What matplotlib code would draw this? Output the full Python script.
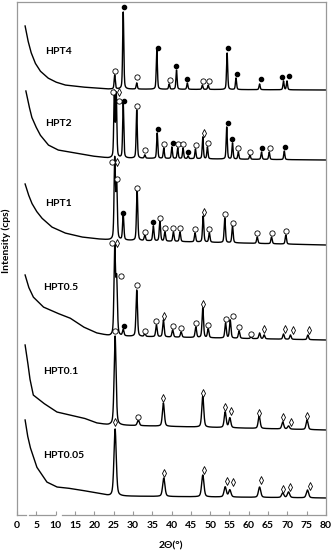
import numpy as np
import matplotlib
matplotlib.use("Agg")
import matplotlib.pyplot as plt

plt.rcParams['font.family'] = ['Lato', 'DejaVu Sans']

# Patrones DRX apilados (intensidad en unidades arbitrarias, ya desplazadas)
etiquetas = ["HPT4", "HPT2", "HPT1", "HPT0.5", "HPT0.1", "HPT0.05"]
etiqueta_pos = [(7.2, 463), (7.2, 392), (7.2, 312), (6.7, 228), (6.7, 143), (6.7, 60)]

# fondo (2θ, intensidad)
fondo_x = [
    [2.1, 2.8, 3.6, 4.7, 6.0, 8.0, 10.0, 12.4, 16.8, 23.6, 80],
    [2.3, 3.0, 3.8, 4.8, 6.0, 8.1, 10.6, 15.0, 19.3, 23.6, 80],
    [2.1, 2.9, 3.8, 5.0, 6.4, 9.0, 12.4, 16.7, 21.0, 24.0, 80],
    [2.1, 3.0, 4.2, 6.8, 10.3, 13.7, 17.2, 20.6, 24.0, 80],
    [2.1, 2.7, 3.3, 4.2, 6.8, 10.3, 13.7, 17.2, 20.6, 23.6, 80],
    [2.1, 2.7, 3.4, 5.1, 7.7, 10.3, 12.9, 16.3, 20.6, 24.0, 80],
]
fondo_y = [
    [489, 475, 463, 452, 444, 437, 433, 430, 428, 426, 425],
    [424, 411, 398, 389, 380, 370, 365, 362, 359, 357, 355],
    [331, 321, 312, 304, 297, 288, 282, 278, 276, 275, 270],
    [240, 228, 218, 208, 202, 197, 188, 182, 179, 175],
    [170, 155, 137, 120, 112, 103, 100, 97, 92, 90, 85],
    [95, 80, 68, 48, 33, 28, 27, 25, 22, 19, 17],
]

# picos (posición 2θ, intensidad máxima)
picos_pos = [
    [25.3, 27.5, 31.0, 36.2, 39.4, 41.3, 44.1, 48.0, 49.5, 54.4, 56.7, 62.8, 69.0, 69.9],
    [25.2, 25.7, 27.5, 31.0, 33.1, 36.3, 38.0, 40.1, 41.6, 43.0, 44.3, 46.2, 48.1, 49.3,
     54.3, 55.8, 57.3, 60.3, 63.3, 65.3, 69.2],
    [25.3, 25.8, 27.5, 31.1, 33.1, 35.3, 37.0, 38.3, 40.5, 42.2, 46.1, 48.2, 49.8, 53.8,
     55.8, 62.2, 65.9, 69.6],
    [25.3, 25.8, 27.5, 31.0, 33.1, 36.1, 37.9, 40.3, 42.5, 46.3, 48.1, 49.5, 54.0, 55.2,
     57.5, 60.6, 62.8, 64.0, 69.0, 70.8, 75.3],
    [25.4, 31.4, 37.9, 48.1, 53.9, 55.1, 62.7, 68.8, 70.3, 75.1],
    [25.4, 38.0, 48.1, 53.9, 55.1, 62.8, 68.8, 70.3, 75.2],
]
picos_top = [
    [440, 503, 432, 465, 431, 445, 432, 430, 430, 462, 437, 431, 434, 434],
    [422, 420, 412, 405, 360, 382, 367, 368, 367, 367, 359, 366, 378, 368,
     388, 372, 363, 360, 363, 363, 364],
    [355, 332, 300, 325, 280, 289, 294, 283, 283, 283, 282, 299, 282, 297,
     289, 278, 278, 280],
    [267, 233, 185, 225, 181, 190, 195, 185, 183, 188, 207, 186, 192, 195,
     184, 178, 182, 180, 181, 180, 180],
    [179, 95, 112, 119, 103, 97, 99, 93, 89, 95],
    [86, 37, 40, 28, 25, 28, 22, 23, 25],
]
anchos = [0.35, 0.35, 0.4, 0.45, 0.6, 0.7]

# marcadores de fase: rutilo (●), brookita (○), anatasa (◊)
rutilo = [
    [(27.7, 508), (36.4, 467), (41.2, 449), (44.1, 436), (54.5, 467), (56.9, 441),
     (63.3, 436), (68.7, 438), (70.5, 439)],
    [(27.8, 414), (36.4, 386), (40.3, 372), (44.4, 363), (54.5, 392), (55.7, 376),
     (63.5, 367), (69.4, 368)],
    [(27.5, 302), (35.3, 293)],
    [(27.8, 189)],
    [],
    [],
]
brookita = [
    [(25.4, 444), (31.0, 438), (39.6, 435), (48.2, 434), (49.7, 434)],
    [(24.9, 423), (26.4, 414), (31.0, 409), (33.1, 365), (38.1, 371), (41.8, 371),
     (43.1, 371), (46.3, 370), (49.4, 372), (57.3, 367), (60.3, 363), (65.5, 367)],
    [(24.7, 353), (25.8, 336), (31.1, 327), (33.1, 283), (37.0, 297), (38.3, 287),
     (40.5, 287), (42.2, 287), (46.1, 286), (49.8, 286), (53.8, 301), (56.0, 292),
     (62.2, 282), (65.9, 282), (69.6, 284)],
    [(24.5, 272), (26.8, 239), (31.0, 230), (33.1, 184), (36.1, 194), (40.3, 189),
     (42.5, 187), (46.3, 192), (49.5, 190), (54.0, 196), (56.0, 199), (57.5, 188),
     (60.6, 181)],
    [(25.4, 184), (31.4, 98)],
    [],
]
anatasa = [
    [],
    [(26.4, 423), (48.5, 382)],
    [(26.0, 353), (48.5, 303)],
    [(26.0, 272), (38.1, 199), (48.2, 211), (64.0, 186), (69.4, 186), (71.4, 185),
     (75.7, 185)],
    [(37.9, 117), (48.2, 122), (53.8, 108), (55.4, 104), (62.7, 102), (68.9, 98),
     (70.9, 93), (75.2, 99)],
    [(25.3, 93), (38.1, 42), (48.4, 45), (54.3, 34), (55.8, 33), (63.3, 35),
     (68.9, 26), (70.8, 28), (75.8, 29)],
]

ticks_x = list(range(0, 81, 5))
eje_tramos = [(0, 2.3), (3.2, 9.8), (11.6, 80)]


def perfil(x, fx, fy, pos, top, fwhm):
    base = np.interp(x, fx, fy)
    y = base.copy()
    for p, t in zip(pos, top):
        h = t - np.interp(p, fx, fy)
        g = np.exp(-4 * np.log(2) * (x - p) ** 2 / fwhm ** 2)
        l = 1 / (1 + 4 * (x - p) ** 2 / fwhm ** 2)
        y += h * (0.6 * g + 0.4 * l)
    return y


fig = plt.figure(figsize=(3.36, 5.55), dpi=100)
ax = fig.add_axes([17 / 336, 40 / 555, 309 / 336, 513 / 555])

for i in range(len(etiquetas)):
    x = np.linspace(fondo_x[i][0], 80, 4000)
    y = perfil(x, fondo_x[i], fondo_y[i], picos_pos[i], picos_top[i], anchos[i])
    ax.plot(x, y, color='black', lw=1.0)
    ax.text(etiqueta_pos[i][0], etiqueta_pos[i][1], etiquetas[i], fontsize=7.5,
            fontweight='bold', va='center', ha='left')
    if rutilo[i]:
        rx, ry = zip(*rutilo[i])
        ax.plot(rx, ry, 'o', ms=3, color='black', mec='black', ls='none')
    if brookita[i]:
        bx, by = zip(*brookita[i])
        ax.plot(bx, by, 'o', ms=3.8, mfc='white', mec='black', mew=0.6, ls='none')
    if anatasa[i]:
        ax.plot(*zip(*anatasa[i]), 'd', ms=4.2, mfc='white', mec='black', mew=0.6,
                ls='none')

ax.set_xlim(0, 80)
ax.set_ylim(0, 513)
ax.set_yticks([])
ax.set_xticks(ticks_x)
ax.tick_params(axis='x', direction='in', length=3, color='#999999', pad=4,
               labelsize=7.5)
for lab in ax.get_xticklabels():
    lab.set_fontweight('bold')
for s in ['top', 'left', 'right']:
    ax.spines[s].set_color('#999999')
    ax.spines[s].set_linewidth(0.9)
ax.spines['bottom'].set_visible(False)
for a, b in eje_tramos:
    ax.plot([a, b], [0, 0], color='#999999', lw=0.9, clip_on=False)

fig.text(171 / 336, 9 / 555, "2Θ(°)", ha='center', va='center', fontsize=7.5,
         fontweight='bold')
fig.text(6.7 / 336, 314 / 555, "Intensity (cps)", ha='center', va='center',
         rotation=90, fontsize=7.5, fontweight='bold')

fig.savefig("out.png", dpi=100)
